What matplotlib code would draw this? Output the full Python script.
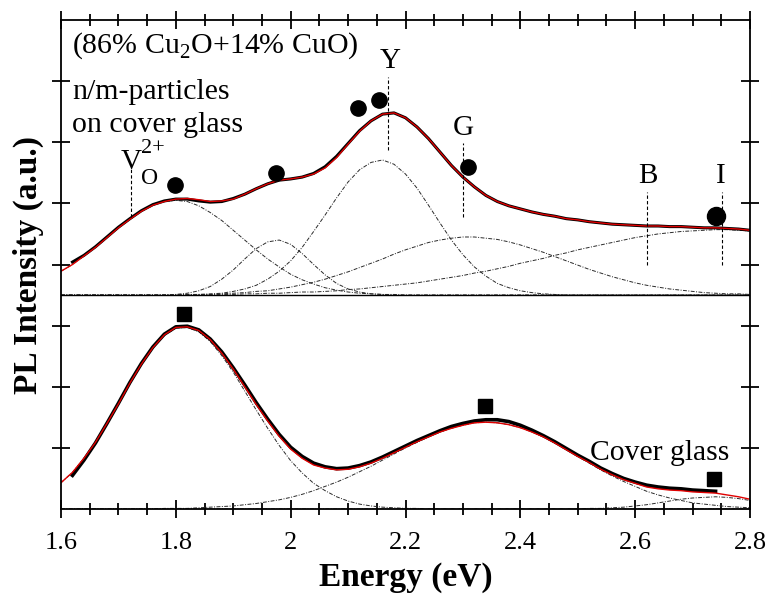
import numpy as np
import matplotlib
matplotlib.use('Agg')
import matplotlib.pyplot as plt
from matplotlib.ticker import MultipleLocator, FuncFormatter

plt.rcParams['font.family'] = ['Liberation Serif', 'DejaVu Serif']
plt.rcParams['mathtext.fontset'] = 'custom'
plt.rcParams['mathtext.rm'] = 'Liberation Serif'

# energy grid (eV), 1.60 ... 2.80 in 0.02 steps
energy = np.round(np.linspace(1.60, 2.80, 61), 2)

# upper spectrum (Cu2O/CuO particles on cover glass), offset above the lower one
base_up = 3.5
comp_vo = [0.39, 0.50, 0.64, 0.78, 0.94, 1.10, 1.24, 1.37, 1.47, 1.53,
           1.55, 1.53, 1.46, 1.35, 1.22, 1.06, 0.90, 0.74, 0.59, 0.46,
           0.34, 0.25, 0.18, 0.12, 0.08, 0.05, 0.03, 0.02, 0.01, 0.01] + [0.0] * 31
comp_2 = [0.0] * 10 + [0.01, 0.03, 0.07, 0.14, 0.26, 0.41, 0.59, 0.76, 0.87, 0.90,
                       0.83, 0.68, 0.50, 0.33, 0.19, 0.10, 0.05, 0.02, 0.01] + [0.0] * 32
comp_y = [0.0] * 12 + [0.01, 0.02, 0.03, 0.06, 0.10, 0.16, 0.26, 0.39, 0.56, 0.78,
                       1.04, 1.31, 1.59, 1.85, 2.05, 2.17, 2.21, 2.14, 1.98, 1.75,
                       1.47, 1.18, 0.90, 0.66, 0.46, 0.31, 0.19, 0.12, 0.07, 0.04,
                       0.02, 0.01] + [0.0] * 17
comp_g = [0.0] * 11 + [0.01, 0.01, 0.01, 0.02, 0.03, 0.04, 0.06, 0.07, 0.10, 0.13,
                       0.17, 0.21, 0.26, 0.32, 0.38, 0.45, 0.52, 0.59, 0.67, 0.74,
                       0.80, 0.86, 0.90, 0.93, 0.95, 0.95, 0.93, 0.91, 0.87, 0.82,
                       0.76, 0.70, 0.63, 0.56, 0.49, 0.42, 0.36, 0.30, 0.25, 0.20,
                       0.16, 0.13, 0.10, 0.08, 0.06, 0.04, 0.03, 0.02, 0.02, 0.01]
comp_bi = [0.0] * 10 + [0.01, 0.01, 0.01, 0.01, 0.01, 0.01, 0.02, 0.02, 0.03, 0.03,
                        0.04, 0.05, 0.05, 0.06, 0.07, 0.09, 0.10, 0.12, 0.14, 0.16,
                        0.18, 0.20, 0.23, 0.26, 0.29, 0.32, 0.36, 0.39, 0.43, 0.47,
                        0.52, 0.56, 0.60, 0.65, 0.69, 0.74, 0.78, 0.82, 0.86, 0.90,
                        0.94, 0.97, 1.00, 1.02, 1.04, 1.05, 1.06, 1.07, 1.07, 1.06,
                        1.05]
up_data = [4.04, 4.15, 4.29, 4.45, 4.61, 4.75, 4.88, 4.98, 5.04, 5.07,
           5.07, 5.04, 5.02, 5.03, 5.08, 5.15, 5.24, 5.32, 5.38, 5.40,
           5.43, 5.49, 5.60, 5.77, 5.98, 6.19, 6.35, 6.46, 6.48, 6.40,
           6.25, 6.06, 5.84, 5.62, 5.43, 5.27, 5.13, 5.03, 4.96, 4.91,
           4.86, 4.82, 4.79, 4.75, 4.73, 4.70, 4.68, 4.66, 4.65, 4.64,
           4.63, 4.63, 4.62, 4.62, 4.61, 4.60, 4.60, 4.59, 4.58, 4.56]  # 1.62 ... 2.80

# lower spectrum (bare cover glass)
lcomp_1 = [0.43, 0.60, 0.83, 1.09, 1.40, 1.72, 2.06, 2.37, 2.64, 2.84,
           2.96, 2.97, 2.90, 2.74, 2.51, 2.24, 1.93, 1.62, 1.32, 1.04,
           0.79, 0.59, 0.42, 0.30, 0.20, 0.13, 0.08, 0.05, 0.03, 0.02,
           0.01, 0.01] + [0.0] * 29
lcomp_2 = [0.0] * 9 + [0.01, 0.01, 0.01, 0.02, 0.03, 0.04, 0.05, 0.07, 0.09, 0.12,
                       0.15, 0.19, 0.24, 0.30, 0.37, 0.44, 0.52, 0.61, 0.70, 0.80,
                       0.90, 1.00, 1.09, 1.18, 1.26, 1.32, 1.37, 1.41, 1.42, 1.41,
                       1.38, 1.33, 1.26, 1.18, 1.08, 0.97, 0.86, 0.75, 0.64, 0.54,
                       0.45, 0.37, 0.29, 0.23, 0.18, 0.14, 0.10, 0.08, 0.06, 0.04,
                       0.03, 0.02]
lcomp_3 = [0.0] * 46 + [0.01, 0.01, 0.02, 0.03, 0.05, 0.07, 0.10, 0.13, 0.16, 0.18,
                        0.19, 0.20, 0.19, 0.17, 0.14]
lo_data = [0.55, 0.80, 1.08, 1.40, 1.73, 2.07, 2.38, 2.65, 2.86, 2.98,
           2.99, 2.93, 2.78, 2.57, 2.31, 2.03, 1.74, 1.47, 1.22, 1.01,
           0.86, 0.75, 0.69, 0.66, 0.67, 0.71, 0.77, 0.85, 0.94, 1.03,
           1.12, 1.20, 1.28, 1.35, 1.40, 1.44, 1.46, 1.46, 1.43, 1.37,
           1.29, 1.20, 1.10, 0.99, 0.88, 0.78, 0.67, 0.58, 0.50, 0.44,
           0.39, 0.36, 0.34, 0.33, 0.31, 0.30, 0.29]  # 1.62 ... 2.74

circle_e = [1.799, 1.975, 2.118, 2.153, 2.309]
circle_y = [5.30, 5.50, 6.56, 6.69, 5.60]
big_circle_e = [2.741]
big_circle_y = [4.80]
square_e = [1.815, 2.339, 2.738]
square_y = [3.19, 1.69, 0.49]

vline_e = [1.722, 2.170, 2.300, 2.621, 2.752]
vline_lo = [4.78, 5.88, 4.78, 3.99, 3.99]
vline_hi = [5.60, 7.07, 5.99, 5.19, 5.19]

peak_labels = ['Y', 'G', 'B', 'I']
peak_label_e = [2.173, 2.300, 2.622, 2.750]
peak_label_y = [7.22, 6.12, 5.34, 5.34]

up_comps = np.array([comp_vo, comp_2, comp_y, comp_g, comp_bi])
lo_comps = np.array([lcomp_1, lcomp_2, lcomp_3])
dashdot = (0, (4, 1.5, 1, 1.5))

fig = plt.figure(figsize=(7.7, 5.98), dpi=100)
ax = fig.add_axes([61 / 770, 1 - 509 / 598, 689 / 770, 489 / 598])

# upper spectrum
for c in up_comps:
    ax.plot(energy, base_up + c, color='#2a2a2a', lw=0.7, ls=dashdot)
ax.axhline(base_up, color='black', lw=1.0)
ax.plot(energy[1:], up_data, color='black', lw=2.2)
ax.plot(energy, base_up + up_comps.sum(axis=0), color='#e00000', lw=1.0)

# lower spectrum
for c in lo_comps:
    ax.plot(energy, c, color='#2a2a2a', lw=0.7, ls=dashdot)
ax.plot(energy[1:58], lo_data, color='black', lw=2.6)
ax.plot(energy, lo_comps.sum(axis=0), color='#e00000', lw=1.0)

ax.vlines(vline_e, vline_lo, vline_hi, colors='black', lw=0.8, linestyles=(0, (3, 2)))

ax.plot(circle_e, circle_y, 'o', color='black', ms=11)
ax.plot(big_circle_e, big_circle_y, 'o', color='black', ms=13)
ax.plot(square_e, square_y, 's', color='black', ms=10)

for t, x, y in zip(peak_labels, peak_label_e, peak_label_y):
    ax.text(x, y, t, ha='center', va='baseline', fontsize=21)
ax.text(1.7045, 5.56, 'V', ha='left', va='baseline', fontsize=21)
ax.text(1.739, 5.83, '2+', ha='left', va='baseline', fontsize=16)
ax.text(1.739, 5.32, 'O', ha='left', va='baseline', fontsize=17)

ax.text(1.619, 7.46, '(86% Cu$_2$O+14% CuO)', ha='left', va='baseline', fontsize=21.5)
ax.text(1.619, 6.71, 'n/m-particles', ha='left', va='baseline', fontsize=21.5)
ax.text(1.619, 6.17, 'on cover glass', ha='left', va='baseline', fontsize=21.5)
ax.text(2.5216, 0.80, 'Cover glass', ha='left', va='baseline', fontsize=21.3)

ax.set_xlim(1.6, 2.8)
ax.set_ylim(0, 8)
ax.xaxis.set_major_locator(MultipleLocator(0.2))
ax.xaxis.set_minor_locator(MultipleLocator(0.05))
ax.xaxis.set_major_formatter(FuncFormatter(lambda v, p: '%g' % round(v, 2)))
ax.set_yticks([1, 2, 3, 4, 5, 6, 7])
ax.set_yticklabels([])
ax.tick_params(which='both', direction='inout', top=True, right=True, width=1.3)
ax.tick_params(which='major', length=13, labelsize=19, pad=10)
ax.tick_params(which='minor', length=8)
for s in ax.spines.values():
    s.set_linewidth(1.3)

ax.set_xlabel('Energy (eV)', fontsize=24, fontweight='bold', labelpad=6)
ax.set_ylabel('PL Intensity (a.u.)', fontsize=24, fontweight='bold')
ax.yaxis.set_label_coords(-0.025, 0.5)

fig.savefig('out.png', dpi=100)
